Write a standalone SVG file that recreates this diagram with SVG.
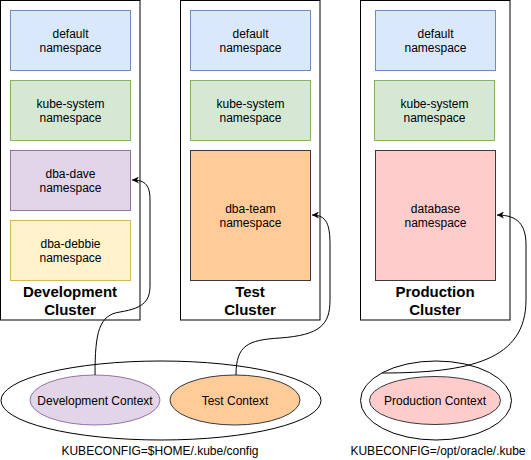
<svg xmlns="http://www.w3.org/2000/svg" width="531" height="460" viewBox="0 0 531 460">
<style>
  .cl { fill: #ffffff; stroke: #000000; stroke-width: 1; }
  .t { font-family: "Liberation Sans", Arial, Helvetica, sans-serif; font-size: 12px; fill: #000000; text-anchor: middle; }
  .b { font-family: "Liberation Sans", Arial, Helvetica, sans-serif; font-size: 15px; font-weight: bold; fill: #000000; text-anchor: middle; }
  .blue { fill: #dae8fc; stroke: #6c8ebf; }
  .green { fill: #d5e8d4; stroke: #82b366; }
  .purple { fill: #e1d5e7; stroke: #9673a6; }
  .yellow { fill: #fff2cc; stroke: #d6b656; }
  .orange { fill: #ffcc99; stroke: #36393d; }
  .red { fill: #ffcccc; stroke: #36393d; }
  .group { fill: none; stroke: #000000; }
  .edge { fill: none; stroke: #000000; stroke-width: 1; }
</style>
<defs>
  <marker id="arrow" viewBox="0 0 10 10" refX="10" refY="5" markerWidth="8" markerHeight="7" markerUnits="userSpaceOnUse" orient="auto">
    <path d="M0,0 L10,5 L0,10 L3,5 z" fill="#000000"/>
  </marker>
</defs>

<g id="dev-cluster">
  <rect class="cl" x="0.5" y="0.5" width="139.5" height="319.5"/>
  <text class="b" x="70" y="297">Development</text>
  <text class="b" x="70" y="315">Cluster</text>
</g>
<g id="dev-default">
  <rect class="blue" x="10.5" y="10.5" width="120" height="60"/>
  <text class="t" x="70.5" y="37.5">default</text>
  <text class="t" x="70.5" y="52">namespace</text>
</g>
<g id="dev-kube-system">
  <rect class="green" x="10.5" y="80.5" width="120" height="60"/>
  <text class="t" x="70.5" y="107.5">kube-system</text>
  <text class="t" x="70.5" y="122">namespace</text>
</g>
<g id="dev-dba-dave">
  <rect class="purple" x="10.5" y="150.5" width="120" height="60"/>
  <text class="t" x="70.5" y="177.5">dba-dave</text>
  <text class="t" x="70.5" y="192">namespace</text>
</g>
<g id="dev-dba-debbie">
  <rect class="yellow" x="10.5" y="220.5" width="120" height="60"/>
  <text class="t" x="70.5" y="247.5">dba-debbie</text>
  <text class="t" x="70.5" y="262">namespace</text>
</g>

<g id="test-cluster">
  <rect class="cl" x="180.5" y="0.5" width="139.5" height="319.5"/>
  <text class="b" x="250" y="297">Test</text>
  <text class="b" x="250" y="315">Cluster</text>
</g>
<g id="test-default">
  <rect class="blue" x="190.5" y="10.5" width="120" height="60"/>
  <text class="t" x="250.5" y="37.5">default</text>
  <text class="t" x="250.5" y="52">namespace</text>
</g>
<g id="test-kube-system">
  <rect class="green" x="190.5" y="80.5" width="120" height="60"/>
  <text class="t" x="250.5" y="107.5">kube-system</text>
  <text class="t" x="250.5" y="122">namespace</text>
</g>
<g id="test-dba-team">
  <rect class="orange" x="190.5" y="150.5" width="120" height="130"/>
  <text class="t" x="250.5" y="212.5">dba-team</text>
  <text class="t" x="250.5" y="227">namespace</text>
</g>

<g id="prod-cluster">
  <rect class="cl" x="360.5" y="0.5" width="149.5" height="319.5"/>
  <text class="b" x="435" y="297">Production</text>
  <text class="b" x="435" y="315">Cluster</text>
</g>
<g id="prod-default">
  <rect class="blue" x="375.5" y="10.5" width="120" height="60"/>
  <text class="t" x="435.5" y="37.5">default</text>
  <text class="t" x="435.5" y="52">namespace</text>
</g>
<g id="prod-kube-system">
  <rect class="green" x="374.5" y="80.5" width="120" height="60"/>
  <text class="t" x="434.5" y="107.5">kube-system</text>
  <text class="t" x="434.5" y="122">namespace</text>
</g>
<g id="prod-database">
  <rect class="red" x="375.5" y="150.5" width="120" height="130"/>
  <text class="t" x="435.5" y="212.5">database</text>
  <text class="t" x="435.5" y="227">namespace</text>
</g>

<g id="kubeconfig-home">
  <ellipse class="group" cx="161" cy="400.5" rx="160" ry="39.5"/>
  <text class="t" x="160" y="455">KUBECONFIG=$HOME/.kube/config</text>
</g>
<g id="dev-context">
  <ellipse class="purple" cx="95" cy="400" rx="65" ry="25"/>
  <text class="t" x="95" y="404.5">Development Context</text>
</g>
<g id="test-context">
  <ellipse class="orange" cx="235" cy="400" rx="65" ry="25"/>
  <text class="t" x="235" y="404.5">Test Context</text>
</g>
<g id="kubeconfig-oracle">
  <ellipse class="group" cx="436" cy="400.5" rx="75.5" ry="39.5"/>
  <text class="t" x="438" y="455">KUBECONFIG=/opt/oracle/.kube</text>
</g>
<g id="prod-context">
  <ellipse class="red" cx="435" cy="400.5" rx="65.5" ry="24"/>
  <text class="t" x="435" y="404.5">Production Context</text>
</g>

<g id="connectors">
  <path class="edge" marker-end="url(#arrow)" d="M 95 375 C 95 332 99 315 120 312 C 145 308 150 300 150 285 L 150 200 C 150 186 146 180 132 180"/>
  <path class="edge" marker-end="url(#arrow)" d="M 236 375 C 236 345 248 340 280 338 C 320 335 330 325 330 300 L 330 245 C 330 225 327 215 312 215"/>
  <path class="edge" marker-end="url(#arrow)" d="M 382 373 C 470 373 526 360 526 300 L 526 245 C 526 225 518 215 497 215"/>
</g>
</svg>
